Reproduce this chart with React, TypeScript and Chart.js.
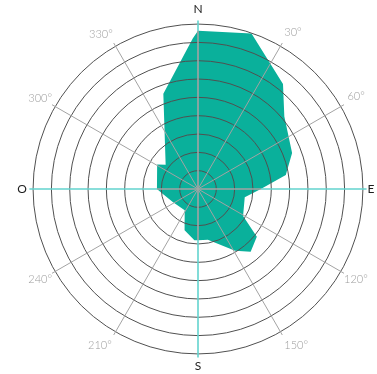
import { useEffect, useRef } from 'react';
import { Chart, registerables } from 'chart.js';

Chart.register(...registerables);

// Compass labels, one every 30° clockwise from north
const directionLabels = ['N', '30°', '60°', 'E', '120°', '150°', 'S', '210°', '240°', 'O', '300°', '330°'];
// Outline of the filled shape: bearing (degrees) of each vertex and its radial value (in rings)
const vertexAngles = [0, 19, 39, 50, 69, 81, 90, 100, 121, 129, 140, 149, 169, 180, 184, 198, 212, 242, 264, 270, 301, 307, 340, 358];
const vertexValues = [8.63, 8.97, 7.37, 6.15, 5.5, 4.85, 3.43, 2.59, 2.87, 4.13, 4.47, 3.93, 2.82, 2.8, 2.81, 2.37, 1.37, 1.54, 2.01, 2.24, 2.6, 2.21, 5.53, 8.22];
// Radial axis: rings every 1 unit, axis lines run slightly past the last ring
const ringStep = 1;
const ringMax = 9.2;
// Small marker at the centre of the rose
const centerValue = 0;

const TEAL = '#0ab09b';
const CYAN = '#62d3ce';
const SPOKE = '#a3a3a3';
const RING = '#505050';
const FONT = 'Lato, "Open Sans", sans-serif';
const LABEL_PAD = [4, 4, 4, 1, 0, 4, 1, 4, 0, 2.5, 0, 2];

export default function App() {
  const ref = useRef<HTMLCanvasElement>(null);

  useEffect(() => {
    const canvas = ref.current;
    if (!canvas) return;
    const total = 360;
    const labels = Array.from({ length: total }, (_, d) => (d % 30 === 0 ? directionLabels[d / 30] : ''));
    const values: (number | null)[] = Array(total).fill(null);
    vertexAngles.forEach((a, k) => {
      values[a] = vertexValues[k];
    });
    const centre: (number | null)[] = Array(total).fill(null);
    centre[0] = centerValue;
    const valueAt = (deg: number) => {
      const k = vertexAngles.indexOf(deg);
      return k >= 0 ? vertexValues[k] : 0;
    };

    const chart = new Chart(canvas, {
      type: 'radar',
      data: {
        labels,
        datasets: [
          {
            data: values,
            backgroundColor: TEAL,
            borderColor: TEAL,
            borderWidth: 0,
            pointRadius: 0,
            pointHoverRadius: 0,
            spanGaps: true,
            fill: 'origin',
          },
          {
            data: centre,
            backgroundColor: '#3a3a3a',
            borderColor: '#3a3a3a',
            borderWidth: 0,
            pointRadius: 1.6,
            pointBorderWidth: 0,
            pointBackgroundColor: '#3a3a3a',
            showLine: false,
            fill: false,
          },
        ],
      },
      options: {
        responsive: false,
        animation: false,
        events: [],
        layout: { padding: 13 },
        plugins: { legend: { display: false }, tooltip: { enabled: false } },
        scales: {
          r: {
            min: 0,
            max: ringMax,
            startAngle: 0,
            ticks: { display: false, stepSize: ringStep, includeBounds: false },
            grid: { circular: true, color: RING, lineWidth: 1, z: 1 },
            angleLines: {
              display: true,
              lineWidth: (c: any) => (c.index % 30 === 0 ? (c.index % 90 === 0 ? 1.6 : 1) : 0),
              color: (c: any) => {
                const i = c.index;
                if (i % 30 !== 0) return 'rgba(0,0,0,0)';
                if (i % 90 !== 0) return SPOKE;
                const scale = c.scale || c.chart.scales.r;
                const end = scale.getPointPositionForValue(i, scale.max);
                const g = c.chart.ctx.createLinearGradient(scale.xCenter, scale.yCenter, end.x, end.y);
                const f = Math.min(1, Math.max(0, valueAt(i) / scale.max));
                g.addColorStop(0, SPOKE);
                g.addColorStop(f, SPOKE);
                g.addColorStop(f, CYAN);
                g.addColorStop(1, CYAN);
                return g;
              },
            },
            pointLabels: {
              display: true,
              padding: (c: any) => (c.index % 30 === 0 ? LABEL_PAD[c.index / 30] : 4),
              font: (c: any) =>
                c.index % 90 === 0
                  ? { family: FONT, size: 12, weight: 'normal' }
                  : { family: FONT, size: 11, weight: 300 },
              color: (c: any) => (c.index % 90 === 0 ? '#1e1e1e' : '#9c9c9c'),
            },
          },
        },
      },
    } as any);
    return () => chart.destroy();
  }, []);

  return (
    <canvas
      ref={ref}
      width={400}
      height={400}
      style={{ position: 'fixed', left: -4, top: -11, width: 400, height: 400, display: 'block' }}
    />
  );
}
